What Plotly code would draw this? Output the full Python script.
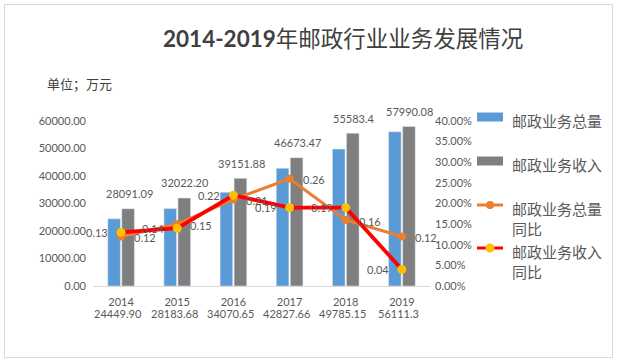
import plotly.graph_objects as go

years = ["2014", "2015", "2016", "2017", "2018", "2019"]
total_volume = [24449.90, 28183.68, 34070.65, 42827.66, 49785.15, 56111.3]
total_volume_labels = ["24449.90", "28183.68", "34070.65", "42827.66", "49785.15", "56111.3"]
revenue = [28091.09, 32022.20, 39151.88, 46673.47, 55583.4, 57990.08]
revenue_labels = ["28091.09", "32022.20", "39151.88", "46673.47", "55583.4", "57990.08"]
volume_yoy = [0.12, 0.15, 0.21, 0.26, 0.16, 0.12]
revenue_yoy = [0.13, 0.14, 0.22, 0.19, 0.19, 0.04]

names = ["邮政业务总量", "邮政业务收入", "邮政业务总量<br>同比", "邮政业务收入<br>同比"]

W, H = 618, 362
L, R, T, B = 93, 430, 121, 286

BLUE = "#5B9BD5"
GRAY = "#7F7F7F"
ORANGE = "#ED7D31"
RED = "#FF0000"
YELLOW = "#FFC000"
TXT = "#595959"
NUMFONT = "Lato, 'Noto Sans CJK SC', sans-serif"
CJK = "'Noto Sans CJK SC', sans-serif"


def px(x):
    return (x - L) / (R - L)


def py(y):
    return (B - y) / (B - T)


fig = go.Figure()
fig.add_bar(x=years, y=total_volume, name=names[0], marker_color=BLUE, showlegend=False)
fig.add_bar(x=years, y=revenue, name=names[1], marker_color=GRAY, showlegend=False)
fig.add_scatter(x=years, y=volume_yoy, name=names[2], yaxis="y2", mode="lines+markers",
                line=dict(color=ORANGE, width=3), marker=dict(color=ORANGE, size=8),
                showlegend=False)
fig.add_scatter(x=years, y=revenue_yoy, name=names[3], yaxis="y2", mode="lines+markers",
                line=dict(color=RED, width=3.8), marker=dict(color=YELLOW, size=9),
                showlegend=False)

ann = []
# revenue labels above gray bars
for i, (v, t) in enumerate(zip(revenue, revenue_labels)):
    ann.append(dict(x=i, y=v, xref="x", yref="y", text=t, showarrow=False,
                    xshift=8, yshift=15, font=dict(size=11, color=TXT, family=NUMFONT)))
# volume labels below the axis
for i, t in enumerate(total_volume_labels):
    ann.append(dict(x=i, y=0, xref="x", yref="y", text=t, showarrow=False,
                    xshift=-3, yshift=-27, font=dict(size=11, color=TXT, family=NUMFONT)))
# yoy labels
for i, v in enumerate(volume_yoy):
    ann.append(dict(x=i, y=v, xref="x", yref="y2", text=f"{v:.2f}", showarrow=False,
                    xshift=24, yshift=-1, font=dict(size=11, color=TXT, family=NUMFONT)))
for i, v in enumerate(revenue_yoy):
    ann.append(dict(x=i, y=v, xref="x", yref="y2", text=f"{v:.2f}", showarrow=False,
                    xshift=-24, font=dict(size=11, color=TXT, family=NUMFONT)))

# title and unit
ann.append(dict(x=px(343), y=py(39), xref="paper", yref="paper", showarrow=False,
                text="<b>2014-2019</b>年邮政行业业务发展情况",
                font=dict(size=22.5, color="#404040", family=NUMFONT),
                xanchor="center", yanchor="middle"))
ann.append(dict(x=px(45), y=py(83), xref="paper", yref="paper", showarrow=False,
                text="单位；万元", font=dict(size=13, color="#404040", family=CJK),
                xanchor="left", yanchor="middle"))

shapes = []
# outer border
shapes.append(dict(type="rect", xref="paper", yref="paper",
                   x0=px(4.5), x1=px(612.5), y0=py(4.5), y1=py(357.5),
                   line=dict(color="#D9D9D9", width=1), fillcolor="rgba(0,0,0,0)", layer="below"))

# manual legend
leg_x0, leg_x1, leg_tx = 477, 503, 510
rows = [117, 161, 205, 248]
shapes.append(dict(type="rect", xref="paper", yref="paper", x0=px(leg_x0), x1=px(leg_x1),
                   y0=py(rows[0] - 4.5), y1=py(rows[0] + 4.5), fillcolor=BLUE, line=dict(width=0)))
shapes.append(dict(type="rect", xref="paper", yref="paper", x0=px(leg_x0), x1=px(leg_x1),
                   y0=py(rows[1] - 4.5), y1=py(rows[1] + 4.5), fillcolor=GRAY, line=dict(width=0)))
shapes.append(dict(type="line", xref="paper", yref="paper", x0=px(leg_x0), x1=px(leg_x1),
                   y0=py(rows[2]), y1=py(rows[2]), line=dict(color=ORANGE, width=3)))
shapes.append(dict(type="circle", xref="paper", yref="paper", x0=px(490 - 4), x1=px(490 + 4),
                   y0=py(rows[2] - 4), y1=py(rows[2] + 4), fillcolor=ORANGE, line=dict(width=0)))
shapes.append(dict(type="line", xref="paper", yref="paper", x0=px(leg_x0), x1=px(leg_x1),
                   y0=py(rows[3]), y1=py(rows[3]), line=dict(color=RED, width=3)))
shapes.append(dict(type="circle", xref="paper", yref="paper", x0=px(490 - 4.5), x1=px(490 + 4.5),
                   y0=py(rows[3] - 4.5), y1=py(rows[3] + 4.5), fillcolor=YELLOW, line=dict(width=0)))
for r, n in zip(rows, names):
    ann.append(dict(x=px(leg_tx), y=py(r - 9), xref="paper", yref="paper", showarrow=False,
                    text=n, align="left", xanchor="left", yanchor="top",
                    font=dict(size=15, color=TXT, family=CJK)))

fig.update_layout(
    width=W, height=H,
    margin=dict(l=L, r=W - R, t=T, b=H - B),
    paper_bgcolor="white", plot_bgcolor="white",
    barmode="group", bargap=0.5, bargroupgap=0.1,
    showlegend=False,
    xaxis=dict(type="category", range=[-0.5, len(years) - 0.5], showgrid=False,
               showline=True, linecolor="#D9D9D9", linewidth=1,
               ticks="", tickfont=dict(size=11, color=TXT, family=NUMFONT),
               ticklabelstandoff=6, fixedrange=True),
    yaxis=dict(range=[0, 60000], dtick=10000, tickformat=".2f", showgrid=False,
               zeroline=False, showline=False, ticks="",
               tickfont=dict(size=11, color=TXT, family=NUMFONT), ticklabelstandoff=6),
    yaxis2=dict(range=[0, 0.4], dtick=0.05, tickformat=".2%", overlaying="y", side="right",
                showgrid=False, zeroline=False, showline=False, ticks="",
                tickfont=dict(size=11, color=TXT, family=NUMFONT), ticklabelstandoff=4),
    annotations=ann, shapes=shapes,
)

fig.write_html("out.html", config={"displayModeBar": False},
               post_script="document.body.style.margin='0';document.body.style.overflow='hidden';")
